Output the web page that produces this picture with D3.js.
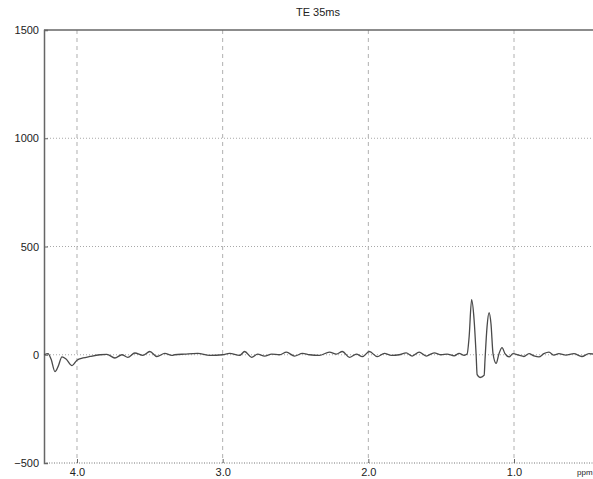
<!DOCTYPE html>
<html>
<head>
<meta charset="utf-8">
<script src="https://cdn.jsdelivr.net/npm/d3@7"></script>
<style>
  body { margin: 0; background: #fff; }
  text { font-family: "Liberation Sans", Arial, sans-serif; fill: #222; }
</style>
</head>
<body>
<div id="chart"></div>
<script>
// spectrum (ppm, signal)
const ppm = [4.226, 4.199, 4.178, 4.151, 4.130, 4.103, 4.075, 4.034, 4.000, 3.959,
  3.911, 3.842, 3.795, 3.740, 3.692, 3.651, 3.603, 3.548, 3.500, 3.452,
  3.397, 3.349, 3.329, 3.260, 3.171, 3.089, 3.000, 2.952, 2.884, 2.849,
  2.801, 2.760, 2.712, 2.664, 2.610, 2.562, 2.507, 2.452, 2.404, 2.336,
  2.267, 2.219, 2.178, 2.130, 2.082, 2.041, 1.993, 1.938, 1.890, 1.842,
  1.788, 1.740, 1.699, 1.651, 1.603, 1.548, 1.500, 1.459, 1.411, 1.377,
  1.342, 1.322, 1.308, 1.291, 1.274, 1.260, 1.253, 1.233, 1.205, 1.199,
  1.185, 1.171, 1.158, 1.144, 1.123, 1.103, 1.082, 1.062, 1.034, 1.007,
  0.966, 0.932, 0.897, 0.863, 0.829, 0.795, 0.760, 0.726, 0.692, 0.644,
  0.589, 0.534, 0.486, 0.418, 0.350, 0.280, 0.240];
const signal = [0, 5, -20, -78, -55, -10, -20, -50, -25, -15,
  -8, 0, 2, -15, 0, -12, 8, -3, 15, -8,
  6, -3, 0, 3, 6, -3, 0, 6, -3, 15,
  -12, 3, -6, 3, 0, 12, -6, 6, 0, -3,
  12, 3, 15, -12, 3, -9, 15, -9, 6, -3,
  0, 9, -6, 12, -6, 9, 0, 3, -5, 6,
  -3, 3, 83, 254, 162, 0, -92, -105, -95, -23,
  130, 194, 143, 5, -40, 5, 33, 5, -10, 5,
  -2, -8, 5, -5, -10, 5, 12, -2, 5, -2,
  5, -8, 5, 0, -5, 5, 0];

const xTicks = [4.0, 3.0, 2.0, 1.0];
const yTicks = [-500, 0, 500, 1000, 1500];
const title = "TE 35ms";

const W = 593, H = 479;
const plotLeft = 44, plotTop = 30, plotBottom = 463, plotRight = 625;

const svg = d3.select("#chart").append("svg")
    .attr("width", W)
    .attr("height", H);

const x = d3.scaleLinear().domain([4.2265, 0.238]).range([plotLeft, plotRight]);
const y = d3.scaleLinear().domain([-500, 1500]).range([plotBottom, plotTop]);

// grid
svg.append("g")
    .selectAll("line")
    .data(xTicks)
    .enter().append("line")
    .attr("x1", d => x(d)).attr("x2", d => x(d))
    .attr("y1", plotTop).attr("y2", plotBottom)
    .attr("stroke", "#b0b0b0")
    .attr("stroke-width", 1)
    .attr("stroke-dasharray", "4,4");

svg.append("g")
    .selectAll("line")
    .data(yTicks.filter(d => d > -500 && d < 1500))
    .enter().append("line")
    .attr("x1", plotLeft).attr("x2", W)
    .attr("y1", d => y(d)).attr("y2", d => y(d))
    .attr("stroke", "#a8a8a8")
    .attr("stroke-width", 1)
    .attr("stroke-dasharray", "1,2");

// frame
svg.append("line")
    .attr("x1", plotLeft).attr("x2", W)
    .attr("y1", plotTop).attr("y2", plotTop)
    .attr("stroke", "#666").attr("stroke-width", 1.3);
svg.append("line")
    .attr("x1", plotLeft).attr("x2", W)
    .attr("y1", plotBottom).attr("y2", plotBottom)
    .attr("stroke", "#777").attr("stroke-width", 1)
    .attr("stroke-dasharray", "1,1.5");

// axes
const yAxis = svg.append("g")
    .attr("transform", `translate(${plotLeft},0)`)
    .call(d3.axisLeft(y).tickValues(yTicks).tickSize(-4).tickPadding(5).tickFormat(d3.format("d")));
yAxis.select(".domain").attr("stroke", "#666").attr("stroke-width", 1.5);
yAxis.selectAll(".tick line").attr("stroke", "#666");
yAxis.selectAll(".tick text")
    .style("font-size", "11px")
    .text(d => d < 0 ? "\u2212" + Math.abs(d) : d);

const xAxis = svg.append("g")
    .attr("transform", `translate(0,${plotBottom})`)
    .call(d3.axisBottom(x).tickValues(xTicks).tickSize(-4).tickPadding(5).tickFormat(d3.format(".1f")));
xAxis.select(".domain").remove();
xAxis.selectAll(".tick line").attr("stroke", "#666");
xAxis.selectAll(".tick text").style("font-size", "11px");

svg.append("text")
    .attr("x", 577)
    .attr("y", 475)
    .style("font-size", "8px")
    .text("ppm");

// title
svg.append("text")
    .attr("x", 318)
    .attr("y", 16)
    .attr("text-anchor", "middle")
    .style("font-size", "11px")
    .text(title);

// spectrum
const data = ppm.map((p, i) => ({p, v: signal[i]}));
svg.append("path")
    .datum(data)
    .attr("fill", "none")
    .attr("stroke", "#4a4a4a")
    .attr("stroke-width", 1.3)
    .attr("d", d3.line()
        .x(d => x(d.p))
        .y(d => y(d.v))
        .curve(d3.curveMonotoneX));
</script>
</body>
</html>
